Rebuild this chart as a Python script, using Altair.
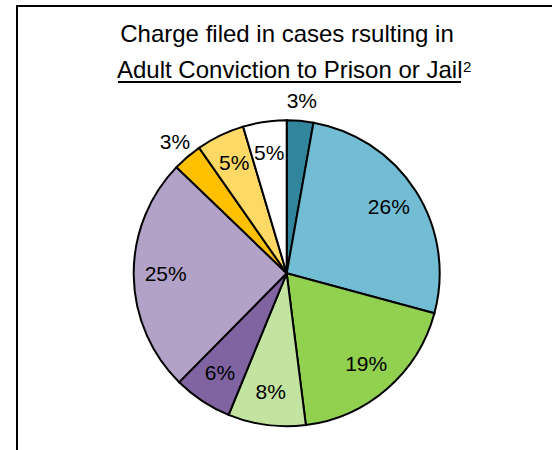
import altair as alt
import pandas as pd

# Slices, clockwise from 12 o'clock
slices = ["Slice 1", "Slice 2", "Slice 3", "Slice 4", "Slice 5",
          "Slice 6", "Slice 7", "Slice 8", "Slice 9"]
values = [2.8, 26.4, 18.8, 8.2, 6.2, 24.8, 3.1, 5.1, 4.6]
labels = ["3%", "26%", "19%", "8%", "6%", "25%", "3%", "5%", "5%"]
colors = ["#31859C", "#72BDD3", "#92D050", "#C3E3A0", "#8064A2",
          "#B3A2C7", "#FFC000", "#FFD966", "#FFFFFF"]

title_line1 = "Charge filed in cases rsulting in"
title_line2 = "Adult Conviction to Prison or Jail"
title_sup = "2"

df = pd.DataFrame({"slice": slices, "value": values, "label": labels,
                   "idx": list(range(len(slices)))})

FONT = "Liberation Sans"
CX, CY = 286.7, 273.3

base = alt.Chart(df)

arcs = base.mark_arc(radius=153, stroke="black", strokeWidth=2).encode(
    theta=alt.Theta("value:Q", stack=True),
    order=alt.Order("idx:Q"),
    color=alt.Color("slice:N", scale=alt.Scale(domain=slices, range=colors), legend=None),
    x=alt.value(CX), y=alt.value(CY),
)

inside = base.mark_text(radius=121, font=FONT, fontSize=21, color="black").encode(
    theta=alt.Theta("value:Q", stack=True),
    order=alt.Order("idx:Q"),
    text=alt.condition("datum.value >= 4", "label:N", alt.value("")),
    x=alt.value(CX), y=alt.value(CY),
)

outside = base.mark_text(radius=172, font=FONT, fontSize=21, color="black").encode(
    theta=alt.Theta("value:Q", stack=True),
    order=alt.Order("idx:Q"),
    text=alt.condition("datum.value < 4", "label:N", alt.value("")),
    x=alt.value(CX), y=alt.value(CY),
)

one = pd.DataFrame({"k": [0]})

t1 = alt.Chart(one).mark_text(text=title_line1, font=FONT, fontSize=24, align="center",
                               baseline="alphabetic", color="black").encode(
    x=alt.value(287), y=alt.value(42))
t2 = alt.Chart(one).mark_text(text=title_line2, font=FONT, fontSize=24, align="left",
                               baseline="alphabetic", color="black").encode(
    x=alt.value(117), y=alt.value(78))
t3 = alt.Chart(one).mark_text(text=title_sup, font=FONT, fontSize=15, align="left",
                               baseline="alphabetic", color="black").encode(
    x=alt.value(463), y=alt.value(72))
underline = alt.Chart(one).mark_rule(color="black", strokeWidth=2).encode(
    x=alt.value(118), x2=alt.value(461), y=alt.value(82))

border_top = alt.Chart(one).mark_rule(color="black", strokeWidth=2).encode(
    x=alt.value(16), x2=alt.value(552), y=alt.value(6))
border_left = alt.Chart(one).mark_rule(color="black", strokeWidth=2).encode(
    x=alt.value(17), y=alt.value(5), y2=alt.value(450))

chart = alt.layer(arcs, inside, outside, t1, t2, t3, underline, border_top, border_left).properties(
    width=552, height=450, padding=0,
    autosize=alt.AutoSizeParams(type="none"),
    background="white",
).configure_view(strokeWidth=0)

chart.save("out.html", embed_options={"renderer": "svg", "actions": False})
